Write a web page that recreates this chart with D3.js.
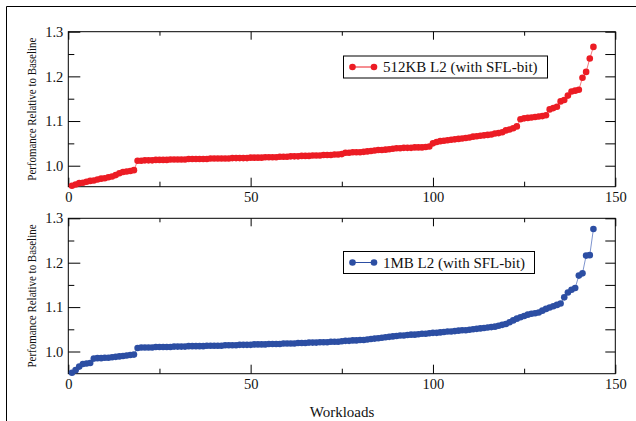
<!DOCTYPE html>
<html>
<head>
<meta charset="utf-8">
<script src="https://cdn.jsdelivr.net/npm/d3@7"></script>
<style>
  body { margin: 0; background: #fff; }
  svg { display: block; font-family: "Liberation Serif", "Times New Roman", serif; }
</style>
</head>
<body>
<svg id="chart" width="636" height="421"></svg>
<script>
// Workload performance relative to baseline, sorted (x = 1..144)
var perf512KB = [
  0.955, 0.958, 0.961, 0.962, 0.964, 0.966, 0.967, 0.969, 0.971, 0.972, 0.974, 0.976, 0.979, 0.983, 0.986, 0.987, 0.988, 0.990,
  1.011, 1.011, 1.012, 1.012, 1.012, 1.013, 1.013, 1.013, 1.013, 1.014, 1.014, 1.014, 1.014, 1.014, 1.015, 1.015, 1.015, 1.015,
  1.015, 1.015, 1.016, 1.016, 1.016, 1.016, 1.016, 1.016, 1.017, 1.017, 1.017, 1.017, 1.017, 1.018,
  1.018, 1.018, 1.018, 1.019, 1.019, 1.019, 1.019, 1.020, 1.020, 1.020, 1.021, 1.021, 1.021, 1.022, 1.022, 1.022, 1.023, 1.023,
  1.023, 1.024, 1.024, 1.024, 1.025, 1.025, 1.026,
  1.029, 1.029, 1.030, 1.030, 1.030, 1.031, 1.032, 1.033, 1.034, 1.035, 1.035, 1.036, 1.037, 1.038, 1.039, 1.039, 1.040, 1.040,
  1.040, 1.041, 1.041, 1.041, 1.042, 1.043,
  1.050, 1.053, 1.055, 1.056, 1.057, 1.058, 1.059, 1.060, 1.061, 1.062, 1.063, 1.065, 1.066, 1.067, 1.068, 1.069, 1.070, 1.072,
  1.073, 1.075, 1.079, 1.081, 1.084, 1.088,
  1.104, 1.106, 1.107, 1.108, 1.109, 1.110, 1.111, 1.113, 1.126, 1.129, 1.132, 1.144, 1.147, 1.157, 1.166, 1.168, 1.170, 1.197,
  1.210, 1.240, 1.266
];

var perf1MB = [
  0.952, 0.958, 0.966, 0.972, 0.973, 0.974, 0.984, 0.985, 0.985, 0.986, 0.986, 0.987, 0.988, 0.989, 0.990, 0.991, 0.992, 0.993,
  1.008, 1.009, 1.009, 1.009, 1.009, 1.010, 1.010, 1.010, 1.010, 1.010, 1.011, 1.011, 1.011, 1.011, 1.012, 1.012, 1.012, 1.012,
  1.012, 1.013, 1.013, 1.013, 1.013, 1.013, 1.014, 1.014, 1.014, 1.014, 1.015, 1.015, 1.015, 1.015,
  1.016, 1.016, 1.016, 1.016, 1.017, 1.017, 1.017, 1.017, 1.018, 1.018, 1.018, 1.018, 1.019, 1.019, 1.019, 1.020, 1.020, 1.020,
  1.021, 1.021, 1.021, 1.022, 1.022, 1.022, 1.023,
  1.024, 1.024, 1.025, 1.025, 1.026, 1.026, 1.027, 1.028, 1.029, 1.030, 1.031, 1.032, 1.033, 1.034, 1.035, 1.036, 1.036, 1.037,
  1.038, 1.038, 1.039, 1.040, 1.040, 1.041,
  1.042, 1.042, 1.043, 1.044, 1.045, 1.045, 1.046, 1.047, 1.048, 1.048, 1.049, 1.050, 1.051, 1.052, 1.053, 1.054, 1.055, 1.056,
  1.058, 1.060, 1.062, 1.066, 1.070, 1.074,
  1.077, 1.080, 1.083, 1.085, 1.086, 1.088, 1.092, 1.096, 1.099, 1.102, 1.105, 1.108, 1.122, 1.133, 1.139, 1.143, 1.171, 1.176,
  1.216, 1.217, 1.276
];

var xTickLabels = [0, 50, 100, 150];
var xMinorTicks = [25, 75, 125];
var yTickLabels = [1.0, 1.1, 1.2, 1.3];
var yMinorTicks = [1.05, 1.15, 1.25];

var panels = [
  { values: perf512KB, name: "512KB L2 (with SFL-bit)", dot: "#ec1c24", line: "#f06a6f", top: 31.7, bottom: 186.7, yMin: 0.953, legendY: 67, legendW: 204 },
  { values: perf1MB, name: "1MB L2 (with SFL-bit)", dot: "#2c4ea3", line: "#6f88c8", top: 218.3, bottom: 373.7, yMin: 0.950, legendY: 262.5, legendW: 191 }
];

var svg = d3.select("#chart");
var left = 68.3, right = 615.3;

// outer frame (top and left edges only)
svg.append("path")
  .attr("d", "M6.5,421 V6.5 H636")
  .attr("fill", "none")
  .attr("stroke", "#000")
  .attr("stroke-width", 1);

var xScale = d3.scaleLinear().domain([0, 150]).range([left, right]);

panels.forEach(function(p) {
  var g = svg.append("g");
  var yScale = d3.scaleLinear().domain([p.yMin, 1.3]).range([p.bottom, p.top]);
  var h = p.bottom - p.top;

  // axes, ticks pointing inward
  g.append("g").attr("transform", `translate(0,${p.bottom})`)
    .call(d3.axisBottom(xScale).tickValues(xTickLabels).tickSize(-9).tickPadding(5).tickFormat(d3.format("d")));
  g.append("g").attr("transform", `translate(0,${p.bottom})`)
    .call(d3.axisBottom(xScale).tickValues(xMinorTicks).tickSize(-5).tickFormat(""));
  g.append("g").attr("transform", `translate(0,${p.top})`)
    .call(d3.axisTop(xScale).tickValues(xTickLabels).tickSize(-8).tickFormat(""));
  g.append("g").attr("transform", `translate(0,${p.top})`)
    .call(d3.axisTop(xScale).tickValues(xMinorTicks).tickSize(-4).tickFormat(""));

  g.append("g").attr("transform", `translate(${left},0)`)
    .call(d3.axisLeft(yScale).tickValues(yTickLabels).tickSize(-12).tickPadding(5).tickFormat(d3.format(".1f")));
  g.append("g").attr("transform", `translate(${left},0)`)
    .call(d3.axisLeft(yScale).tickValues(yMinorTicks).tickSize(-6).tickFormat(""));
  g.append("g").attr("transform", `translate(${right},0)`)
    .call(d3.axisRight(yScale).tickValues(yTickLabels.concat(yMinorTicks)).tickSize(-10).tickFormat(""));

  g.selectAll(".domain").remove();
  g.selectAll(".tick line").attr("stroke", "#000").attr("stroke-width", 1);
  g.selectAll(".tick text")
    .attr("fill", "#111")
    .style("font-family", "'Liberation Serif', serif")
    .style("font-size", "14.5px");

  // plot frame
  g.append("rect")
    .attr("x", left).attr("y", p.top)
    .attr("width", right - left).attr("height", h)
    .attr("fill", "none").attr("stroke", "#000").attr("stroke-width", 1);

  // data: thin line + dots
  var pts = p.values.map(function(v, i) { return { x: i + 1, y: v }; });
  var line = d3.line().x(d => xScale(d.x)).y(d => yScale(d.y));

  g.append("path")
    .datum(pts)
    .attr("d", line)
    .attr("fill", "none")
    .attr("stroke", p.line)
    .attr("stroke-width", 0.9);

  g.selectAll(".dot")
    .data(pts)
    .enter().append("circle")
    .attr("class", "dot")
    .attr("cx", d => xScale(d.x))
    .attr("cy", d => yScale(d.y))
    .attr("r", 3.3)
    .attr("fill", p.dot);

  // y axis title
  g.append("text")
    .attr("transform", `translate(35.5,${(p.top + p.bottom) / 2}) rotate(-90)`)
    .attr("text-anchor", "middle")
    .attr("textLength", 143)
    .attr("lengthAdjust", "spacingAndGlyphs")
    .style("font-size", "12.5px")
    .attr("fill", "#111")
    .text("Perfomance Relative to Baseline");

  // legend
  var ly = p.legendY;
  var lg = g.append("g");
  lg.append("rect")
    .attr("x", 343.5).attr("y", ly - 11)
    .attr("width", p.legendW).attr("height", 22)
    .attr("fill", "#fff").attr("stroke", "#000").attr("stroke-width", 1);
  lg.append("line")
    .attr("x1", 352.5).attr("x2", 374)
    .attr("y1", ly).attr("y2", ly)
    .attr("stroke", p.dot).attr("stroke-width", 1);
  lg.selectAll("circle")
    .data([352.5, 374])
    .enter().append("circle")
    .attr("cx", d => d).attr("cy", ly).attr("r", 3.3)
    .attr("fill", p.dot);
  lg.append("text")
    .attr("x", 383).attr("y", ly + 5)
    .style("font-size", "15px")
    .attr("fill", "#111")
    .text(p.name);
});

// shared x axis title
svg.append("text")
  .attr("x", 342).attr("y", 416.5)
  .attr("text-anchor", "middle")
  .style("font-size", "15px")
  .attr("fill", "#111")
  .text("Workloads");
</script>
</body>
</html>
